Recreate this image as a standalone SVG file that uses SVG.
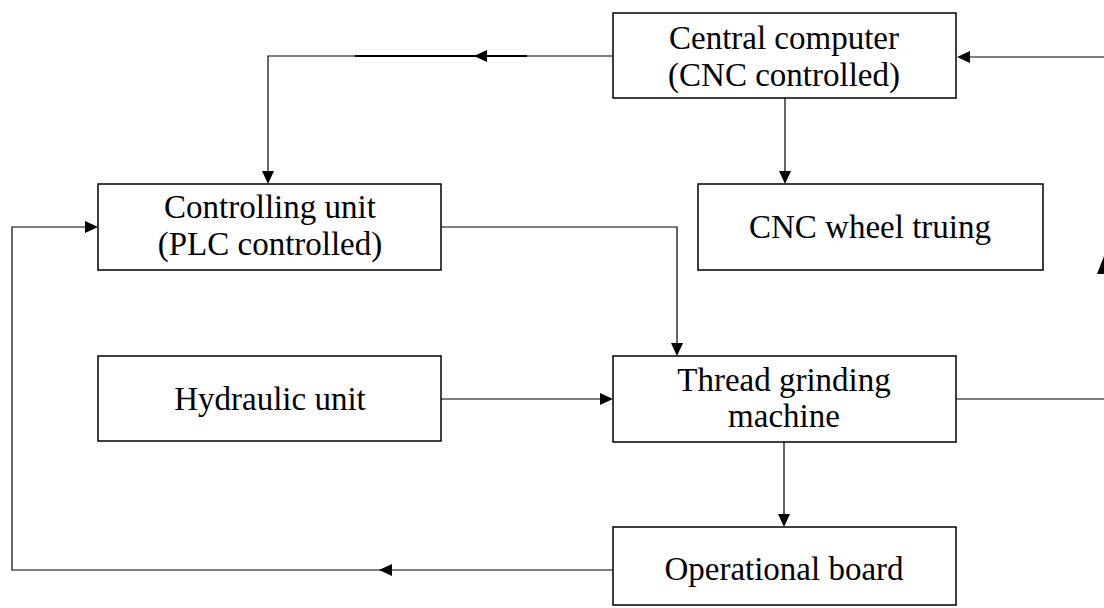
<svg xmlns="http://www.w3.org/2000/svg" width="1104" height="608" viewBox="0 0 1104 608">
<style>
.box{fill:#fff;stroke:#000;stroke-width:1.5}
.t{font-family:"Liberation Serif","Times New Roman",serif;font-size:33px;fill:#000;text-anchor:middle}
.ln{fill:none;stroke:#000;stroke-width:1.2}
.ah{fill:#000}
</style>
<rect width="1104" height="608" fill="#fff"/>
<g id="connectors">
<polyline class="ln" points="613,56 268,56 268,172"/>
<line x1="355" y1="56" x2="527" y2="56" stroke="#000" stroke-width="2"/>
<polygon class="ah" points="474,56 487,50 487,62"/>
<polygon class="ah" points="268,184 262,171 274,171"/>
<line class="ln" x1="1104" y1="57" x2="968" y2="57"/>
<polygon class="ah" points="957,57 970,51 970,63"/>
<line class="ln" x1="785" y1="98" x2="785" y2="172"/>
<polygon class="ah" points="785,184 779,171 791,171"/>
<polyline class="ln" points="441,227 677,227 677,344"/>
<polygon class="ah" points="677,356 671,343 683,343"/>
<line class="ln" x1="441" y1="399" x2="600" y2="399"/>
<polygon class="ah" points="613,399 600,393 600,405"/>
<line class="ln" x1="956" y1="399" x2="1104" y2="399"/>
<polygon class="ah" points="1097,274 1104,256 1111,274"/>
<line class="ln" x1="784" y1="442" x2="784" y2="515"/>
<polygon class="ah" points="784,527 778,514 790,514"/>
<polyline class="ln" points="613,570 12,570 12,227 86,227"/>
<polygon class="ah" points="98,227 85,221 85,233"/>
<polygon class="ah" points="379,570 392,564 392,576"/>
</g>
<g id="central-computer">
<rect class="box" x="613" y="13" width="343" height="85"/>
<text class="t" x="784" y="49">Central computer</text>
<text class="t" x="784" y="86">(CNC controlled)</text>
</g>
<g id="controlling-unit">
<rect class="box" x="98" y="184" width="343" height="86"/>
<text class="t" x="270" y="218">Controlling unit</text>
<text class="t" x="270" y="255">(PLC controlled)</text>
</g>
<g id="cnc-wheel-truing">
<rect class="box" x="698" y="184" width="345" height="86"/>
<text class="t" x="870" y="238">CNC wheel truing</text>
</g>
<g id="hydraulic-unit">
<rect class="box" x="98" y="356" width="343" height="85"/>
<text class="t" x="270" y="410">Hydraulic unit</text>
</g>
<g id="thread-grinding-machine">
<rect class="box" x="613" y="356" width="343" height="86"/>
<text class="t" x="784" y="391">Thread grinding</text>
<text class="t" x="784" y="427">machine</text>
</g>
<g id="operational-board">
<rect class="box" x="613" y="527" width="343" height="78"/>
<text class="t" x="784" y="580">Operational board</text>
</g>
</svg>
